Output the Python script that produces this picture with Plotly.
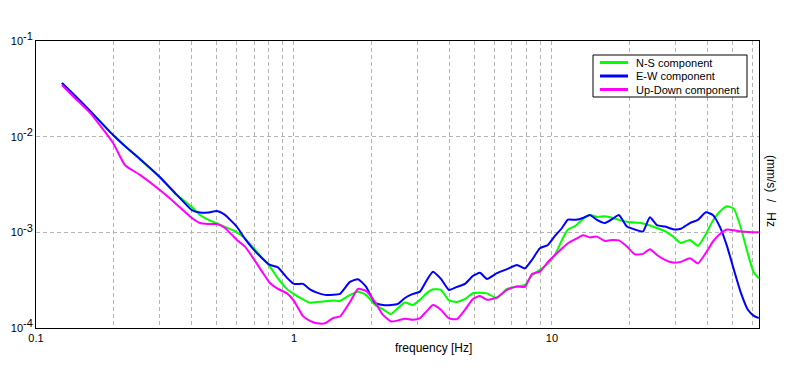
import plotly.graph_objects as go

# ---- data ----
freq = [0.126, 0.142, 0.162, 0.199, 0.221, 0.253, 0.302, 0.346, 0.402, 0.432,
        0.464, 0.503, 0.540, 0.601, 0.646, 0.694, 0.758, 0.807, 0.867, 0.940,
        1.000, 1.084, 1.153, 1.228, 1.319, 1.417, 1.508, 1.649, 1.771, 1.902,
        2.061, 2.213, 2.377, 2.530, 2.693, 2.892, 3.079, 3.277, 3.458, 3.714,
        3.989, 4.284, 4.601, 4.941, 5.259, 5.600, 6.121, 6.693, 7.317, 7.860,
        8.367, 8.985, 9.650, 10.27, 10.94, 11.54, 12.39, 13.19, 14.04, 14.94,
        16.05, 17.24, 18.18, 19.53, 20.97, 22.53, 23.98, 25.53, 27.42, 29.44,
        31.62, 34.26, 36.80, 39.53, 42.07, 44.80, 47.69, 50.76, 54.02, 57.50,
        60.66, 63.43]

ns_component = [3.64e-2, 2.66e-2, 1.86e-2, 1.04e-2, 7.99e-3, 5.78e-3, 3.75e-3, 2.55e-3, 1.84e-3, 1.52e-3,
                1.36e-3, 1.24e-3, 1.14e-3, 1.00e-3, 8.64e-4, 6.95e-4, 5.29e-4, 4.38e-4, 3.30e-4, 2.55e-4,
                2.26e-4, 1.99e-4, 1.84e-4, 1.87e-4, 1.90e-4, 1.94e-4, 1.92e-4, 2.22e-4, 2.40e-4, 2.22e-4,
                1.74e-4, 1.57e-4, 1.40e-4, 1.62e-4, 1.85e-4, 1.74e-4, 1.97e-4, 2.33e-4, 2.54e-4, 2.50e-4,
                1.94e-4, 1.87e-4, 2.01e-4, 2.31e-4, 2.33e-4, 2.30e-4, 2.05e-4, 2.56e-4, 2.71e-4, 2.82e-4,
                3.55e-4, 4.05e-4, 4.68e-4, 5.80e-4, 8.33e-4, 1.07e-3, 1.18e-3, 1.38e-3, 1.52e-3, 1.45e-3,
                1.47e-3, 1.41e-3, 1.35e-3, 1.29e-3, 1.27e-3, 1.24e-3, 1.18e-3, 1.11e-3, 1.03e-3, 9.06e-4,
                7.75e-4, 8.33e-4, 7.21e-4, 9.62e-4, 1.32e-3, 1.65e-3, 1.87e-3, 1.76e-3, 1.11e-3, 5.95e-4,
                3.77e-4, 3.31e-4]

ew_component = [3.64e-2, 2.66e-2, 1.86e-2, 1.04e-2, 7.99e-3, 5.85e-3, 3.79e-3, 2.58e-3, 1.71e-3, 1.61e-3,
                1.61e-3, 1.67e-3, 1.52e-3, 1.14e-3, 8.53e-4, 6.71e-4, 5.27e-4, 4.56e-4, 4.30e-4, 3.34e-4,
                2.89e-4, 2.89e-4, 2.53e-4, 2.34e-4, 2.22e-4, 2.22e-4, 2.27e-4, 3.03e-4, 3.24e-4, 2.71e-4,
                1.83e-4, 1.74e-4, 1.74e-4, 1.79e-4, 2.06e-4, 2.27e-4, 2.40e-4, 3.18e-4, 3.88e-4, 3.26e-4,
                2.50e-4, 2.69e-4, 2.89e-4, 3.50e-4, 3.77e-4, 3.26e-4, 3.74e-4, 4.12e-4, 4.56e-4, 4.20e-4,
                5.15e-4, 6.82e-4, 7.38e-4, 9.17e-4, 1.11e-3, 1.36e-3, 1.35e-3, 1.41e-3, 1.52e-3, 1.35e-3,
                1.25e-3, 1.39e-3, 1.52e-3, 1.15e-3, 1.07e-3, 1.02e-3, 1.44e-3, 1.19e-3, 1.15e-3, 1.08e-3,
                1.09e-3, 1.25e-3, 1.35e-3, 1.62e-3, 1.52e-3, 1.14e-3, 7.21e-4, 4.05e-4, 2.33e-4, 1.55e-4,
                1.34e-4, 1.27e-4]

ud_component = [3.47e-2, 2.51e-2, 1.77e-2, 8.59e-3, 5.06e-3, 3.98e-3, 2.77e-3, 2.03e-3, 1.41e-3, 1.25e-3,
                1.22e-3, 1.22e-3, 1.11e-3, 8.33e-4, 7.09e-4, 5.40e-4, 3.77e-4, 2.95e-4, 2.56e-4, 2.30e-4,
                1.92e-4, 1.33e-4, 1.19e-4, 1.12e-4, 1.12e-4, 1.27e-4, 1.32e-4, 1.87e-4, 2.56e-4, 2.44e-4,
                1.87e-4, 1.37e-4, 1.17e-4, 1.20e-4, 1.25e-4, 1.22e-4, 1.27e-4, 1.51e-4, 1.74e-4, 1.55e-4,
                1.26e-4, 1.24e-4, 1.55e-4, 2.01e-4, 2.16e-4, 1.97e-4, 2.09e-4, 2.50e-4, 2.72e-4, 2.69e-4,
                3.67e-4, 3.88e-4, 4.91e-4, 5.80e-4, 6.79e-4, 7.69e-4, 8.53e-4, 9.33e-4, 8.85e-4, 9.02e-4,
                8.13e-4, 8.33e-4, 8.23e-4, 7.09e-4, 5.88e-4, 5.95e-4, 6.66e-4, 5.80e-4, 5.15e-4, 4.83e-4,
                4.91e-4, 5.36e-4, 4.73e-4, 6.09e-4, 8.00e-4, 9.62e-4, 1.07e-3, 1.05e-3, 1.02e-3, 1.01e-3,
                1.00e-3, 1.00e-3]

series_names = ["N-S component", "E-W component", "Up-Down component"]
series_colors = ["#00FF00", "#0000FF", "#FF00FF"]

x_tick_vals = [0.1, 1, 10]
x_tick_text = ["0.1", "1", "10"]
x_minor_vals = [0.2, 0.3, 0.4, 0.5, 0.6, 0.7, 0.8, 0.9,
                2, 3, 4, 5, 6, 7, 8, 9, 20, 30, 40, 50, 60]
y_tick_vals = [1e-4, 1e-3, 1e-2, 1e-1]
y_tick_text = ["10<sup><span style='font-size:11px'>-4</span></sup>",
               "10<sup><span style='font-size:11px'>-3</span></sup>",
               "10<sup><span style='font-size:11px'>-2</span></sup>",
               "10<sup><span style='font-size:11px'>-1</span></sup>"]

FONT = "Liberation Sans, Arial, sans-serif"
GRID = "#b4b4b4"

fig = go.Figure()
for name, vals, col in zip(series_names, [ns_component, ew_component, ud_component], series_colors):
    fig.add_trace(go.Scatter(x=freq, y=vals, mode="lines", name=name,
                             line=dict(color=col, width=2, shape="spline", smoothing=0.5),
                             showlegend=False))

# page body has an 8px margin; lay the figure out in window pixels
OFF = 8
W, H = 796 - 2 * OFF, 370 - 2 * OFF
PL, PR, PT, PB = 36, 759, 41, 328          # plot area in window pixels
L, T = PL - OFF, PT - OFF
pw, ph = PR - PL, PB - PT
R, B = W - L - pw, H - T - ph


def px(xw):
    return (xw - PL) / pw


def py(yw):
    return (PB - yw) / ph


fig.update_layout(
    width=W, height=H,
    margin=dict(l=L, r=R, t=T, b=B, pad=0, autoexpand=False),
    paper_bgcolor="white", plot_bgcolor="white",
    font=dict(family=FONT, size=11, color="black"),
    xaxis=dict(type="log", range=[-1, 1.80277], automargin=False,
               tickvals=x_tick_vals, ticktext=x_tick_text,
               ticks="", showline=True, linecolor="black", linewidth=1, mirror=True,
               showgrid=True, gridcolor=GRID, griddash="4px,3px", gridwidth=1,
               minor=dict(tickvals=x_minor_vals, showgrid=True, gridcolor=GRID,
                          griddash="4px,3px", gridwidth=1, ticks=""),
               tickfont=dict(size=11), zeroline=False),
    yaxis=dict(type="log", range=[-4, -1], automargin=False,
               tickvals=y_tick_vals, ticktext=y_tick_text,
               ticks="", showline=True, linecolor="black", linewidth=1, mirror=True,
               showgrid=True, gridcolor=GRID, griddash="4px,3px", gridwidth=1,
               tickfont=dict(size=11), zeroline=False),
)

# axis titles
fig.add_annotation(text="frequency [Hz]", xref="paper", yref="paper",
                   x=px(433), y=py(348), xanchor="center", yanchor="middle",
                   showarrow=False, font=dict(size=12))
fig.add_annotation(text="(mm/s)\u00a0\u00a0/\u00a0\u00a0\u00a0Hz", xref="paper", yref="paper",
                   x=px(771), y=py(191), xanchor="center", yanchor="middle",
                   textangle=90, showarrow=False, font=dict(size=12))

# legend box
fig.add_shape(type="rect", xref="paper", yref="paper",
              x0=px(593), x1=px(747), y0=py(97), y1=py(55),
              line=dict(color="black", width=1), fillcolor="white", layer="above")
rows = [62.5, 76, 89.5]
for name, col, r in zip(series_names, series_colors, rows):
    fig.add_shape(type="line", xref="paper", yref="paper",
                  x0=px(600), x1=px(628), y0=py(r), y1=py(r),
                  line=dict(color=col, width=3), layer="above")
    fig.add_annotation(text=name, xref="paper", yref="paper",
                       x=px(634), y=py(r), xanchor="left", yanchor="middle",
                       showarrow=False, font=dict(size=11))

fig.write_html("out.html")
